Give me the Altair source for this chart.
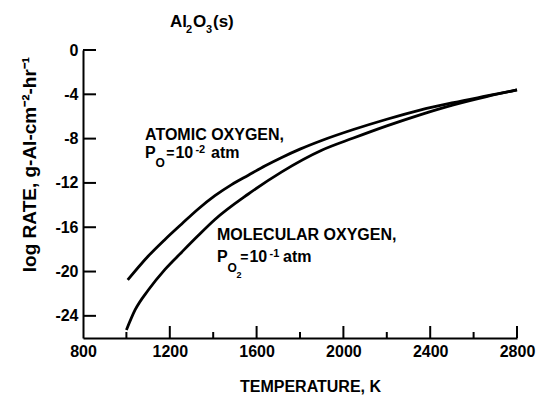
import altair as alt
import pandas as pd

# ---- data ----
temp_atomic = [1006, 1101, 1178, 1255, 1331, 1408, 1485, 1562, 1640, 1716, 1800, 1900, 2046, 2200, 2353, 2507, 2660, 2800]
rate_atomic = [-20.76, -18.6, -17.1, -15.7, -14.35, -13.15, -12.15, -11.3, -10.45, -9.7, -8.95, -8.17, -7.18, -6.25, -5.42, -4.75, -4.15, -3.61]

temp_molecular = [1000, 1040, 1101, 1178, 1255, 1331, 1408, 1562, 1716, 1900, 2046, 2200, 2353, 2507, 2660, 2800]
rate_molecular = [-25.28, -23.47, -21.67, -19.8, -18.25, -16.75, -15.3, -13.0, -11.0, -9.05, -7.95, -6.85, -5.85, -4.95, -4.2, -3.61]

series_names = ["Atomic oxygen", "Molecular oxygen"]

x_tick_values = [800, 1200, 1600, 2000, 2400, 2800]
x_major_ticks = [1200, 1600, 2000, 2400, 2800]
x_minor_ticks = [1000, 1400, 1800, 2200, 2600]
y_tick_values = [0, -4, -8, -12, -16, -20, -24]

# annotation pieces (text, temperature, rate, font size)
ann_text = ["Al", "2", "O", "3", "(s)",
            "ATOMIC OXYGEN,", "P", "O", "=", "10", "-2", "atm",
            "MOLECULAR OXYGEN,", "P", "O", "2", "=", "10", "-1", "atm"]
ann_temp = [1201, 1275, 1307, 1367, 1399,
            1086, 1086, 1134, 1184, 1226, 1318, 1390,
            1417, 1417, 1466, 1507, 1525, 1567, 1660, 1722]
ann_rate = [2.08, 1.53, 2.08, 1.53, 2.08,
            -8.1, -9.75, -10.6, -9.75, -9.75, -9.3, -9.75,
            -17.15, -19.14, -20.04, -20.58, -19.14, -19.14, -18.65, -19.14]
ann_size = [17, 11, 17, 11, 17,
            16, 16, 12, 14, 16, 11, 16,
            16, 16, 12, 9, 14, 16, 11, 16]

FONT = "Liberation Sans"

curves = pd.concat([
    pd.DataFrame({"T": temp_atomic, "rate": rate_atomic, "series": series_names[0]}),
    pd.DataFrame({"T": temp_molecular, "rate": rate_molecular, "series": series_names[1]}),
])
ann = pd.DataFrame({"text": ann_text, "T": ann_temp, "rate": ann_rate, "size": ann_size})

xscale = alt.Scale(domain=[800, 2800], nice=False, zero=False)
yscale = alt.Scale(domain=[-26, 0], nice=False, zero=False)

x_axis = alt.Axis(
    values=x_tick_values, ticks=False, grid=False, labelFlush=False, format="d",
    labelFont=FONT, labelFontSize=16, labelFontWeight="bold", labelColor="black",
    labelPadding=5, domainColor="black", domainWidth=2,
    title="TEMPERATURE, K", titleFont=FONT, titleFontSize=16, titleFontWeight="bold",
    titleColor="black", titleX=227, titleY=53, titleAlign="center", titleBaseline="alphabetic",
)
y_axis = alt.Axis(
    values=y_tick_values, ticks=False, grid=False, labelFlush=False,
    labelExpr="datum.value == 0 ? '0' : '-' + abs(datum.value)",
    labelFont=FONT, labelFontSize=16, labelFontWeight="bold", labelColor="black",
    labelPadding=5, domainColor="black", domainWidth=2,
    title="log RATE, g-Al-cm⁻²-hr⁻¹", titleFont=FONT, titleFontSize=19, titleFontWeight="bold",
    titleColor="black", titleAngle=270, titleX=-54, titleY=114, titleAlign="center",
    titleBaseline="middle",
)

lines = alt.Chart(curves).mark_line(color="black", strokeWidth=2.8, interpolate="monotone").encode(
    x=alt.X("T:Q", scale=xscale, axis=x_axis),
    y=alt.Y("rate:Q", scale=yscale, axis=y_axis),
    detail="series:N",
)

yticks = alt.Chart(pd.DataFrame({"v": y_tick_values})).mark_rule(color="black", strokeWidth=2).encode(
    y="v:Q", x=alt.value(0), x2=alt.value(13)
)
xmajor = alt.Chart(pd.DataFrame({"v": x_major_ticks})).mark_rule(color="black", strokeWidth=2).encode(
    x="v:Q", y=alt.value(288), y2=alt.value(276)
)
xminor = alt.Chart(pd.DataFrame({"v": x_minor_ticks})).mark_rule(color="black", strokeWidth=2).encode(
    x="v:Q", y=alt.value(288), y2=alt.value(282)
)

labels = alt.Chart(ann).mark_text(
    align="left", baseline="alphabetic", font=FONT, fontWeight="bold", color="black"
).encode(
    x="T:Q", y="rate:Q", text="text:N", size=alt.Size("size:Q", scale=None, legend=None)
)

chart = alt.layer(lines, yticks, xmajor, xminor, labels).properties(
    width=434, height=288,
    autosize=alt.AutoSizeParams(type="none"),
    padding={"left": 83, "top": 50, "right": 20, "bottom": 57},
    background="white",
).configure_view(strokeWidth=0)

chart.save("out.html", embed_options={"renderer": "svg", "actions": False})
